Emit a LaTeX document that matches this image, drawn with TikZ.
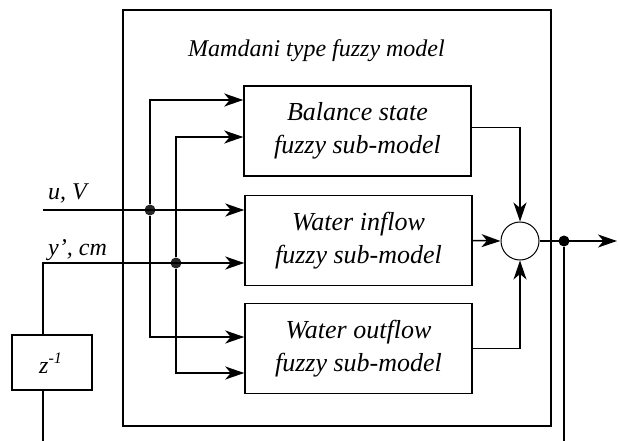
\documentclass[tikz,border=0pt]{standalone}
\usepackage{fontspec}
\setmainfont{Liberation Serif}
\usetikzlibrary{arrows.meta}

\tikzset{
  wire/.style={line width=1.5pt},
  flow/.style={wire, -{Stealth[length=19pt,width=13pt,inset=5.5pt]}},
  submodel/.style={draw, line width=1.5pt, minimum width=227pt, minimum height=90pt,
    align=center, inner sep=0pt, font=\itshape\fontsize{26}{33}\selectfont},
  junction/.style={circle, fill=black!85, inner sep=0pt, minimum size=11pt},
  label/.style={font=\itshape\fontsize{24}{24}\selectfont, inner sep=0pt}
}

\begin{document}
\begin{tikzpicture}[x=1pt, y=-1pt]
  \useasboundingbox (0,0) rectangle (619,441);

  % enclosing model frame and its caption
  \node[draw, line width=1.5pt, minimum width=428pt, minimum height=416pt, inner sep=0pt]
    (frame) at (337,218) {};
  \node[label, anchor=base] (title) at (316.5,57) {Mamdani type fuzzy model};

  % the three sub-models
  \node[submodel] (b1) at (357.5,131) {Balance state\\fuzzy sub-model};
  \node[submodel] (b2) at (358.5,240.5) {Water inflow\\fuzzy sub-model};
  \node[submodel] (b3) at (358.5,348.5) {Water outflow\\fuzzy sub-model};

  % aggregation point
  \node[circle, draw, line width=1pt, minimum size=38pt, inner sep=0pt] (sum) at (520,241) {};

  % unit delay block
  \node[draw, line width=1.5pt, minimum width=80pt, minimum height=55pt, inner sep=0pt]
    (delay) at (52,362.5) {};
  \node[inner sep=0pt, anchor=base west] (dtext) at (39,373)
    {\itshape\fontsize{24}{24}\selectfont z\raisebox{10pt}{\fontsize{16}{16}\selectfont -1}};

  % input signals
  \coordinate (uin) at (43,210);
  \node[junction] (ju) at (150,210) {};
  \node[junction] (jy) at (176,263) {};
  \coordinate (ycorner) at (43,263);
  \coordinate (dbottom) at (43,441);

  \node[label, anchor=base west] (ulab) at (48,200) {u, V};
  \node[label, anchor=base west] (ylab) at (48,255) {y', cm};

  \draw[flow] (uin) -- (b2.west |- ju);
  \draw[flow] (delay.north -| ycorner) -- (ycorner) -- (b2.west |- jy);
  \draw[wire] (delay.south -| dbottom) -- (dbottom);

  % distribution of the inputs to the other sub-models
  \draw[flow] (ju) |- ([yshift=31pt]b1.west);
  \draw[flow] (ju) |- ([yshift=11.5pt]b3.west);
  \draw[flow] (jy) |- ([yshift=-6pt]b1.west);
  \draw[flow] (jy) |- ([yshift=-24.5pt]b3.west);

  % sub-model outputs into the aggregation point
  \draw[flow] ([yshift=3.3pt]b1.east) -| (sum.north);
  \draw[flow] (b2.east) -- (sum.west);
  \draw[flow] (b3.east) -| (sum.south);

  % model output and its feedback tap
  \node[junction, fill=black] (jo) at (564,241) {};
  \coordinate (out) at (617,241);
  \coordinate (tapend) at (564,441);
  \draw[flow] (sum.east) -- (out);
  \draw[wire] (jo) -- (tapend);
\end{tikzpicture}
\end{document}
